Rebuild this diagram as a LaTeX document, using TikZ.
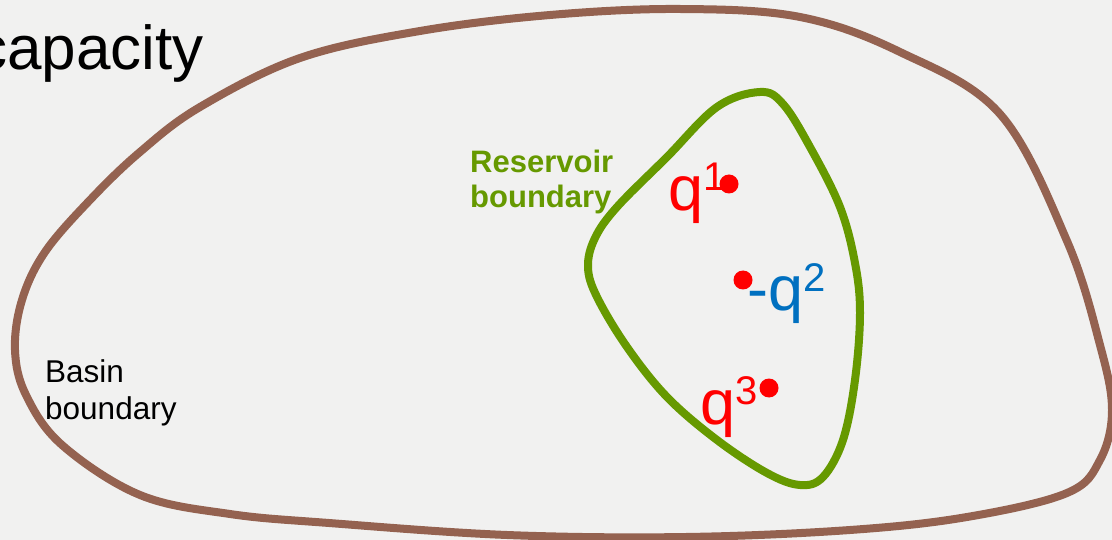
\documentclass[tikz,border=0pt]{standalone}
\usepackage{fontspec}
\setmainfont{Liberation Sans}

\definecolor{basinbrown}{RGB}{148,98,80}
\definecolor{resgreen}{RGB}{102,153,0}
\definecolor{wellred}{RGB}{255,0,0}
\definecolor{injblue}{RGB}{0,112,192}
\definecolor{slidegray}{RGB}{241,241,240}

\newcommand{\supnum}[2]{\raisebox{#1pt}{\fontsize{40}{40}\selectfont #2}}

\begin{document}
\begin{tikzpicture}[
    x=1pt, y=-1pt,
    basin/.style={draw=basinbrown, line width=8pt},
    reservoir/.style={draw=resgreen, line width=8pt},
    well/.style={circle, fill=wellred, inner sep=0pt, minimum size=19pt},
    charge/.style={anchor=base west, inner sep=0pt, font=\fontsize{63}{72}\selectfont},
    caption/.style={anchor=base west, inner sep=0pt, align=left}
  ]

    % Slide background, clipped to the frame
    \useasboundingbox (0,0) rectangle (1112,540);
    \clip (0,0) rectangle (1112,540);
    \fill[slidegray] (0,0) rectangle (1112,540);

    % Title fragment cut by the left edge
    \node[anchor=base west, inner sep=0pt, font=\fontsize{62}{72}\selectfont] (title) at (-24,70) {capacity};

    % Basin boundary (outer closed curve)
    \draw[basin] plot[smooth cycle, tension=0.6] coordinates {
      (200,107) (300,58) (420,31) (550,15) (680,9) (800,17) (900,52)
      (1000,114) (1067,241) (1100,345) (1112,410) (1100,460) (1067,493)
      (967,517) (850,530) (686,537) (507,535) (329,523) (230,514)
      (140,495) (62,445) (26,395) (15,350) (22,300) (45,252) (90,200) (140,152)
    };

    % Reservoir boundary (inner closed curve)
    \draw[reservoir] plot[smooth cycle, tension=0.6] coordinates {
      (760,92) (783,104) (810,147) (840,207) (855,263) (860,313) (855,380)
      (843,440) (823,477) (800,485) (767,473) (717,440) (667,397)
      (627,347) (597,297) (588,267) (595,238) (617,207) (667,157) (717,107)
    };

    % Captions (anchored on the baseline of the last line)
    \node[caption, font=\fontsize{31.5}{37}\selectfont] (basinlabel) at (45,419) {Basin\\boundary};
    \node[caption, font=\bfseries\fontsize{31}{35}\selectfont, text=resgreen] (reslabel) at (470,208) {Reservoir\\boundary};

    % Wells
    \node[well] (w1) at (729,184) {};
    \node[well] (w2) at (743,280) {};
    \node[well] (w3) at (769,388) {};

    % Rates at each well
    \node[charge, text=wellred] (q1) at (668,211) {q\supnum{20}{1}};
    \node[charge, text=injblue] (q2) at (747,311) {-q\supnum{19}{2}};
    \node[charge, text=wellred] (q3) at (700,424) {q\supnum{20}{3}};

  \end{tikzpicture}
\end{document}
